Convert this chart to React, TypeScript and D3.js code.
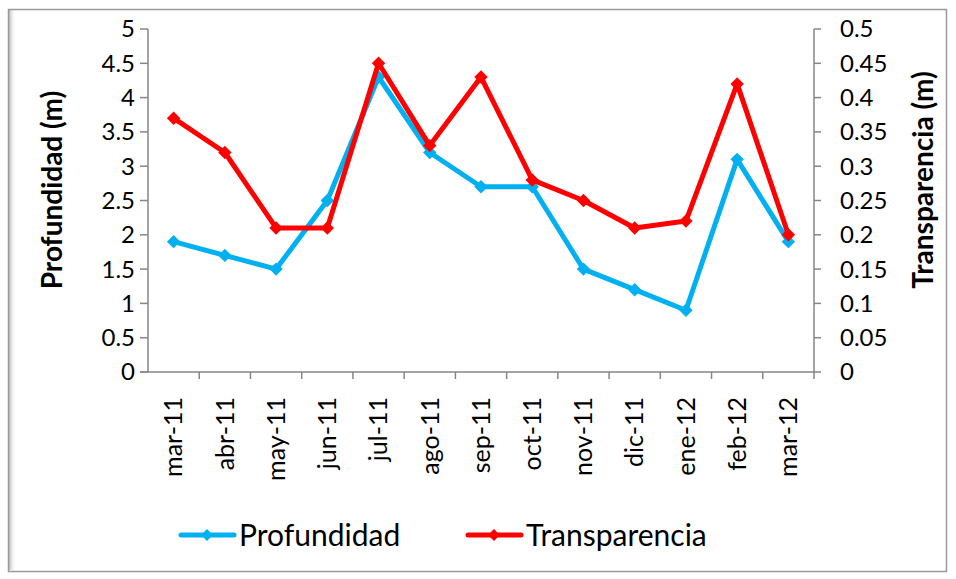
import React from "react";
import * as d3 from "d3";

const categories = ["mar-11","abr-11","may-11","jun-11","jul-11","ago-11","sep-11","oct-11","nov-11","dic-11","ene-12","feb-12","mar-12"];
const profundidad = [1.9, 1.7, 1.5, 2.5, 4.3, 3.2, 2.7, 2.7, 1.5, 1.2, 0.9, 3.1, 1.9];
const transparencia = [0.37, 0.32, 0.21, 0.21, 0.45, 0.33, 0.43, 0.28, 0.25, 0.21, 0.22, 0.42, 0.2];
const leftTicks = [0, 0.5, 1, 1.5, 2, 2.5, 3, 3.5, 4, 4.5, 5];
const rightTicks = [0, 0.05, 0.1, 0.15, 0.2, 0.25, 0.3, 0.35, 0.4, 0.45, 0.5];

const W = 956, H = 579;
const L = 148, R = 814, T = 29, B = 372;
const FONT = "Lato, 'Open Sans', sans-serif";
const BLUE = "#00B0F0";
const RED = "#FF0000";
const AXIS = "#868686";

export default function App() {
  const x = d3.scaleBand<string>().domain(categories).range([L, R]);
  const yL = d3.scaleLinear().domain([0, 5]).range([B, T]);
  const yR = d3.scaleLinear().domain([0, 0.5]).range([B, T]);
  const cx = (c: string) => (x(c) as number) + x.bandwidth() / 2;

  const lineL = d3.line<number>().x((_, i) => cx(categories[i])).y((d) => yL(d));
  const lineR = d3.line<number>().x((_, i) => cx(categories[i])).y((d) => yR(d));
  const diamond = d3.symbol().type(d3.symbolSquare).size(90)() as string;
  const legDiamond = d3.symbol().type(d3.symbolSquare).size(70)() as string;

  const fmtR = (v: number) => String(+v.toFixed(2));

  return (
    <svg width={W} height={H} style={{ position: "absolute", left: 0, top: 0 }} fontFamily={FONT}>
      <defs>
        <linearGradient id="shL" x1="0" x2="1" y1="0" y2="0">
          <stop offset="0" stopColor="#bdbdbd" />
          <stop offset="1" stopColor="#ffffff" stopOpacity="0" />
        </linearGradient>
      </defs>
      <rect x={0} y={0} width={W} height={H} fill="#ffffff" />
      <rect x={9} y={10} width={7} height={560} fill="url(#shL)" />
      <rect x={8.5} y={9.5} width={938} height={562} fill="none" stroke="#9a9a9a" strokeWidth={1.5} />

      {/* left axis */}
      <line x1={L} x2={L} y1={T} y2={B} stroke={AXIS} strokeWidth={1.5} />
      {leftTicks.map((t) => (
        <g key={"l" + t}>
          <line x1={L - 8} x2={L} y1={yL(t)} y2={yL(t)} stroke={AXIS} strokeWidth={1.5} />
          <text x={L - 13} y={yL(t)} dy="0.35em" textAnchor="end" fontSize={24} fill="#000">{t}</text>
        </g>
      ))}
      {/* right axis */}
      <line x1={R} x2={R} y1={T} y2={B} stroke={AXIS} strokeWidth={1.5} />
      {rightTicks.map((t) => (
        <g key={"r" + t}>
          <line x1={R} x2={R + 7} y1={yR(t)} y2={yR(t)} stroke={AXIS} strokeWidth={1.5} />
          <text x={R + 26} y={yR(t)} dy="0.35em" textAnchor="start" fontSize={24} fill="#000">{fmtR(t)}</text>
        </g>
      ))}
      {/* bottom axis */}
      <line x1={L - 8} x2={R} y1={B} y2={B} stroke={AXIS} strokeWidth={1.5} />
      {categories.map((c) => (
        <line key={"bt" + c} x1={(x(c) as number) + x.bandwidth()} x2={(x(c) as number) + x.bandwidth()} y1={B} y2={B + 7} stroke={AXIS} strokeWidth={1.5} />
      ))}
      {categories.map((c) => (
        <text key={"bl" + c} transform={`translate(${cx(c)},${B + 25}) rotate(-90)`} dy="0.35em" textAnchor="end" fontSize={25} fill="#000">{c}</text>
      ))}

      {/* axis titles */}
      <text transform={`translate(52,190) rotate(-90)`} dy="0.35em" textAnchor="middle" fontSize={28} fontWeight="bold" fill="#000">Profundidad (m)</text>
      <text transform={`translate(923,180) rotate(-90)`} dy="0.35em" textAnchor="middle" fontSize={28} fontWeight="bold" fill="#000">Transparencia (m)</text>

      {/* series */}
      <path d={lineL(profundidad) as string} fill="none" stroke={BLUE} strokeWidth={5} strokeLinejoin="round" strokeLinecap="round" />
      {profundidad.map((v, i) => (
        <path key={"pm" + i} d={diamond} transform={`translate(${cx(categories[i])},${yL(v)}) rotate(45)`} fill={BLUE} />
      ))}
      <path d={lineR(transparencia) as string} fill="none" stroke={RED} strokeWidth={5} strokeLinejoin="round" strokeLinecap="round" />
      {transparencia.map((v, i) => (
        <path key={"tm" + i} d={diamond} transform={`translate(${cx(categories[i])},${yR(v)}) rotate(45)`} fill={RED} />
      ))}

      {/* legend */}
      <line x1={181} x2={234} y1={535} y2={535} stroke={BLUE} strokeWidth={5} strokeLinecap="round" />
      <path d={legDiamond} transform="translate(207,535) rotate(45)" fill={BLUE} />
      <text x={239} y={535} dy="0.35em" fontSize={30} fill="#000">Profundidad</text>
      <line x1={468} x2={521} y1={535} y2={535} stroke={RED} strokeWidth={5} strokeLinecap="round" />
      <path d={legDiamond} transform="translate(494,535) rotate(45)" fill={RED} />
      <text x={526} y={535} dy="0.35em" fontSize={30} fill="#000">Transparencia</text>
    </svg>
  );
}
